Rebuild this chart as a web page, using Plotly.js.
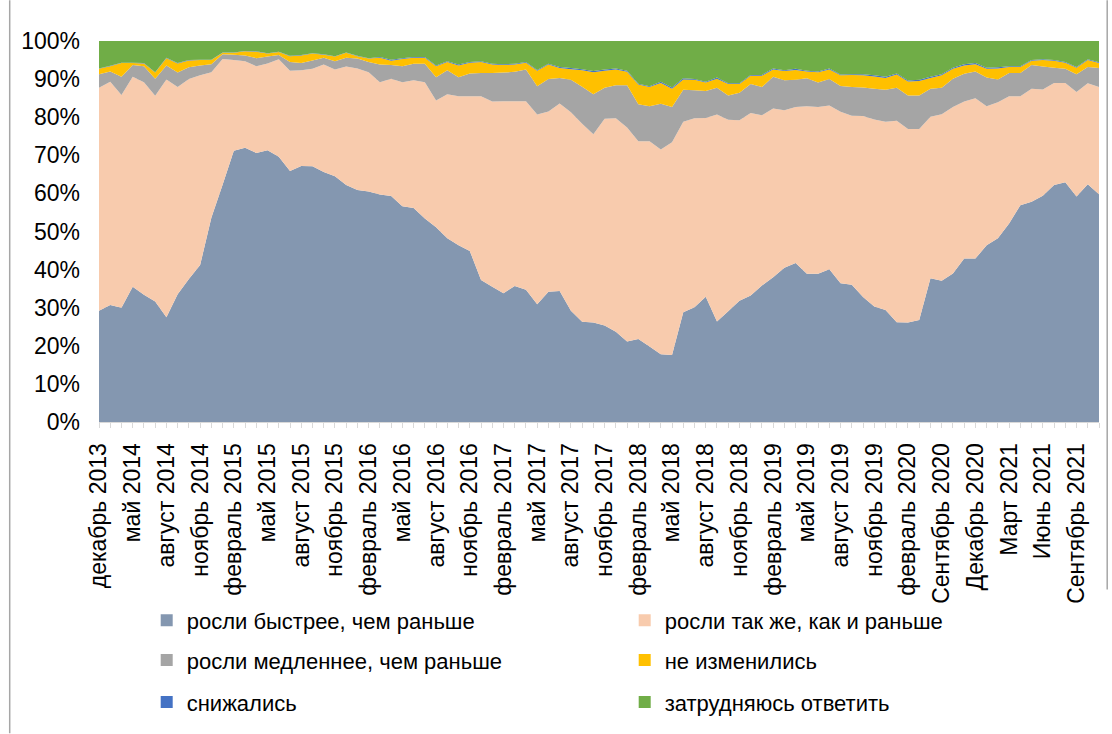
<!DOCTYPE html>
<html>
<head>
<meta charset="utf-8">
<script src="https://cdn.plot.ly/plotly-3.0.1.min.js"></script>
<style>
  html, body { margin: 0; padding: 0; background: #fff; }
  #chart { width: 1112px; height: 734px; }
</style>
</head>
<body>
<div id="chart"></div>
<script>
const categories = [
  'декабрь 2013','февраль 2014','март 2014','май 2014','июнь 2014','июль 2014','август 2014','сентябрь 2014','октябрь 2014','ноябрь 2014',
  'декабрь 2014','январь 2015','февраль 2015','март 2015','апрель 2015','май 2015','июнь 2015','июль 2015','август 2015','сентябрь 2015',
  'октябрь 2015','ноябрь 2015','декабрь 2015','январь 2016','февраль 2016','март 2016','апрель 2016','май 2016','июнь 2016','июль 2016',
  'август 2016','сентябрь 2016','октябрь 2016','ноябрь 2016','декабрь 2016','январь 2017','февраль 2017','март 2017','апрель 2017','май 2017',
  'июнь 2017','июль 2017','август 2017','сентябрь 2017','октябрь 2017','ноябрь 2017','декабрь 2017','январь 2018','февраль 2018','март 2018',
  'апрель 2018','май 2018','июнь 2018','июль 2018','август 2018','сентябрь 2018','октябрь 2018','ноябрь 2018','декабрь 2018','январь 2019',
  'февраль 2019','март 2019','апрель 2019','май 2019','июнь 2019','июль 2019','август 2019','сентябрь 2019','октябрь 2019','ноябрь 2019',
  'декабрь 2019','январь 2020','февраль 2020','Март 2020','Август 2020','Сентябрь 2020','Октябрь 2020','Ноябрь 2020','Декабрь 2020','Январь 2021',
  'Февраль 2021','Март 2021','Апрель 2021','Май 2021','Июнь 2021','Июль 2021','Август 2021','Сентябрь 2021','Октябрь 2021','Ноябрь 2021'
];

const tickLabels = [
  'декабрь 2013','май 2014','август 2014','ноябрь 2014','февраль 2015','май 2015','август 2015','ноябрь 2015',
  'февраль 2016','май 2016','август 2016','ноябрь 2016','февраль 2017','май 2017','август 2017','ноябрь 2017',
  'февраль 2018','май 2018','август 2018','ноябрь 2018','февраль 2019','май 2019','август 2019','ноябрь 2019',
  'февраль 2020','Сентябрь 2020','Декабрь 2020','Март 2021','Июнь 2021','Сентябрь 2021'
];

const seriesNames = [
  'росли быстрее, чем раньше',
  'росли так же, как и раньше',
  'росли медленнее, чем раньше',
  'не изменились',
  'снижались',
  'затрудняюсь ответить'
];

const seriesColors = ['#8497B0', '#F8CBAD', '#A5A5A5', '#FFC000', '#4472C4', '#70AD47'];

const fasterVals = [
  29.2,30.7,30.0,35.5,33.4,31.6,27.5,33.5,37.5,41.2,
  53.6,62.3,71.2,72.0,70.6,71.3,69.6,65.9,67.2,67.1,
  65.6,64.5,62.2,60.9,60.5,59.7,59.3,56.6,56.2,53.4,
  51.1,48.2,46.4,44.9,37.3,35.5,33.8,35.7,34.7,30.9,
  34.2,34.4,29.2,26.3,26.1,25.3,23.7,21.1,21.8,19.8,
  17.8,17.6,28.8,30.1,32.9,26.4,29.1,31.8,33.2,35.8,
  38.0,40.5,41.7,38.9,38.9,40.1,36.4,36.0,32.8,30.3,
  29.4,26.2,26.1,26.8,37.7,37.1,39.0,42.9,42.9,46.4,
  48.2,52.1,56.9,57.8,59.4,62.2,62.9,59.2,62.4,59.8
];

const sameVals = [
  58.5,58.6,55.8,55.1,55.8,54.0,62.4,54.4,52.5,49.8,
  38.2,33.0,23.8,22.7,22.8,22.8,25.6,26.3,25.1,25.6,
  28.2,28.0,31.1,31.9,31.3,29.5,30.8,32.6,33.5,35.8,
  33.3,37.8,39.1,40.6,48.2,48.6,50.4,48.5,49.5,49.8,
  47.3,49.2,52.1,52.0,49.4,54.3,56.0,56.2,51.9,53.9,
  53.7,55.8,50.0,49.6,46.9,54.3,50.2,47.4,47.9,44.7,
  44.3,41.3,41.0,44.0,43.8,43.0,45.0,44.4,47.5,49.1,
  49.4,52.9,50.8,50.1,42.4,43.7,43.7,41.2,42.1,36.5,
  35.7,33.4,28.6,29.7,27.9,26.8,26.1,27.4,26.5,28.1
];

const slowerVals = [
  3.6,2.7,4.8,3.1,4.2,4.5,3.7,3.8,3.1,2.6,
  2.1,1.2,1.4,1.5,2.1,1.8,1.1,2.3,1.9,2.2,
  1.8,2.2,2.3,2.6,2.7,4.6,3.6,4.2,4.3,4.8,
  6.1,6.3,5.0,6.0,6.1,7.5,7.5,7.7,8.3,7.4,
  8.5,6.7,8.5,9.7,10.5,8.1,8.7,11.1,9.7,9.2,
  12.0,9.3,8.4,7.4,7.1,7.0,6.4,7.2,7.6,7.4,
  8.3,7.9,7.1,7.3,6.4,6.9,6.8,7.5,7.5,8.1,
  8.4,8.6,8.8,8.8,7.4,6.9,7.4,7.3,7.0,7.5,
  6.0,6.1,6.1,6.2,6.0,4.0,3.7,4.7,4.3,5.0
];

const unchangedVals = [
  1.4,1.4,3.6,0.5,0.7,1.6,1.9,2.4,1.8,1.4,
  1.1,0.4,0.5,1.1,1.7,0.8,0.8,1.5,2.0,1.8,
  0.8,1.2,1.3,0.6,0.9,1.8,1.1,1.9,1.6,1.6,
  2.9,2.2,3.1,2.8,2.9,2.2,2.0,1.9,1.8,4.1,
  3.8,2.6,2.8,4.3,5.8,4.5,4.1,3.5,5.2,5.0,
  5.5,4.8,2.7,2.7,2.2,2.4,3.0,2.3,2.2,3.0,
  1.9,2.4,2.6,1.8,2.7,2.5,2.8,3.2,3.2,3.2,
  3.1,3.5,3.7,3.8,2.8,3.3,2.6,2.2,1.9,2.3,
  2.9,1.6,1.6,1.1,1.7,1.8,1.6,1.7,1.8,1.3
];

const decreasedVals = [
  0.1,0.1,0.1,0.1,0.1,0.1,0.1,0.1,0.1,0.1,
  0.1,0.1,0.1,0.1,0.1,0.1,0.1,0.1,0.1,0.1,
  0.1,0.1,0.1,0.1,0.1,0.2,0.3,0.2,0.2,0.2,
  0.2,0.2,0.2,0.2,0.2,0.2,0.2,0.2,0.2,0.2,
  0.2,0.3,0.3,0.3,0.3,0.3,0.3,0.3,0.2,0.2,
  0.3,0.3,0.3,0.2,0.2,0.3,0.2,0.2,0.2,0.2,
  0.3,0.2,0.3,0.2,0.2,0.3,0.2,0.2,0.3,0.3,
  0.3,0.3,0.2,0.3,0.3,0.3,0.3,0.3,0.3,0.3,
  0.3,0.2,0.2,0.2,0.2,0.2,0.2,0.2,0.2,0.2
];

const dontKnowVals = [
  7.2,6.5,5.7,5.7,5.8,8.2,4.4,5.8,5.0,4.9,
  4.9,3.0,3.0,2.6,2.7,3.2,2.8,3.9,3.7,3.2,
  3.5,4.0,3.0,3.9,4.5,4.2,4.9,4.5,4.2,4.2,
  6.4,5.3,6.2,5.5,5.3,6.0,6.1,6.0,5.5,7.6,
  6.0,6.8,7.1,7.4,7.9,7.5,7.2,7.8,11.2,11.9,
  10.7,12.2,9.8,10.0,10.7,9.6,11.1,11.1,8.9,8.9,
  7.2,7.7,7.3,7.8,8.0,7.2,8.8,8.7,8.7,9.0,
  9.4,8.5,10.4,10.2,9.4,8.7,7.0,6.1,5.8,7.0,
  6.9,6.6,6.6,5.0,4.8,5.0,5.5,6.8,4.8,5.6
];

const seriesValues = [fasterVals, sameVals, slowerVals, unchangedVals, decreasedVals, dontKnowVals];
const legendIds = ['legend', 'legend', 'legend2', 'legend2', 'legend3', 'legend3'];

const FONT = 'Liberation Sans, Arial, Helvetica, sans-serif';
const TICK_SIZE = 23;
const LEGEND_SIZE = 22;

const traces = [];
seriesValues.forEach((vals, k) => {
  traces.push({
    type: 'scatter',
    mode: 'none',
    x: categories,
    y: vals,
    name: seriesNames[k],
    stackgroup: 'one',
    groupnorm: k === 0 ? 'percent' : undefined,
    fillcolor: seriesColors[k],
    line: { width: 0 },
    showlegend: false,
    legendgroup: 'g' + k,
    hovertemplate: '%{x}: %{y:.1f}%<extra>' + seriesNames[k] + '</extra>'
  });
});
// legend-only entries with square swatches (no visible bars: value is empty)
seriesValues.forEach((vals, k) => {
  traces.push({
    type: 'bar',
    x: [categories[0]],
    y: [null],
    name: seriesNames[k],
    marker: { color: seriesColors[k], line: { width: 0 } },
    legend: legendIds[k],
    legendgroup: 'g' + k,
    showlegend: true,
    hoverinfo: 'skip'
  });
});

const plotLeft = 99.3, plotRight = 1099.3, plotTop = 40.7, plotBottom = 422.3;
const pw = plotRight - plotLeft, ph = plotBottom - plotTop;
const px2x = p => (p - plotLeft) / pw;
const px2y = p => (plotBottom - p) / ph;

const legendBase = {
  orientation: 'h',
  xanchor: 'left',
  yanchor: 'middle',
  x: px2x(147),
  entrywidth: 433,
  entrywidthmode: 'pixels',
  itemwidth: 30,
  font: { family: FONT, size: LEGEND_SIZE, color: '#000' },
  bgcolor: 'rgba(0,0,0,0)',
  borderwidth: 0,
  traceorder: 'normal',
  itemclick: false,
  itemdoubleclick: false
};

const layout = {
  width: 1112,
  height: 734,
  margin: { l: 99, r: 13, t: 41, b: 312, pad: 0, autoexpand: false },
  paper_bgcolor: '#ffffff',
  plot_bgcolor: '#ffffff',
  font: { family: FONT, size: TICK_SIZE, color: '#000' },
  showlegend: true,
  barmode: 'overlay',
  xaxis: {
    type: 'category',
    range: [0, categories.length - 1],
    tickmode: 'array',
    tickvals: categories,
    ticktext: categories.map(c => tickLabels.includes(c) ? c : ''),
    tickangle: -90,
    ticks: 'outside',
    ticklen: 5,
    tickwidth: 1,
    tickcolor: '#d9d9d9',
    showline: true,
    linecolor: '#d9d9d9',
    linewidth: 1,
    showgrid: false,
    zeroline: false,
    ticklabelstandoff: 6,
    tickfont: { family: FONT, size: TICK_SIZE, color: '#000' },
    automargin: false,
    fixedrange: true
  },
  yaxis: {
    range: [0, 100],
    tickmode: 'linear',
    tick0: 0,
    dtick: 10,
    ticksuffix: '%',
    ticks: '',
    showgrid: true,
    gridcolor: '#d9d9d9',
    zeroline: false,
    showline: false,
    ticklabelstandoff: 18,
    tickfont: { family: FONT, size: TICK_SIZE, color: '#000' },
    automargin: false,
    fixedrange: true
  },
  legend: Object.assign({}, legendBase, { y: px2y(621) }),
  legend2: Object.assign({}, legendBase, { y: px2y(661) }),
  legend3: Object.assign({}, legendBase, { y: px2y(703) }),
  shapes: [
    { type: 'line', xref: 'paper', yref: 'paper', x0: px2x(10), x1: px2x(10), y0: px2y(0), y1: px2y(734),
      line: { color: '#a6a6a6', width: 1.5 } },
    { type: 'line', xref: 'paper', yref: 'paper', x0: px2x(1107.5), x1: px2x(1107.5), y0: px2y(0), y1: px2y(590),
      line: { color: '#a6a6a6', width: 1.5 } }
  ]
};

Plotly.newPlot('chart', traces, layout, { displayModeBar: false, staticPlot: true });
</script>
</body>
</html>
